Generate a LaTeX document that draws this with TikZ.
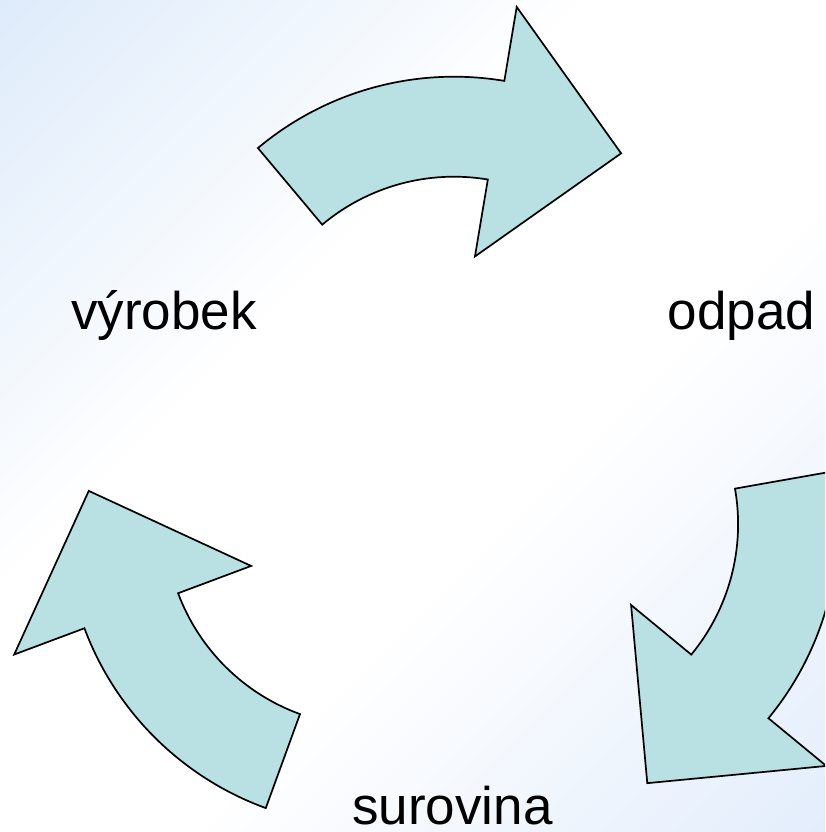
\documentclass[tikz,border=0pt]{standalone}
\usepackage{fontspec}
\setmainfont{Liberation Sans}
\usepackage{xcolor}

\definecolor{arrowfill}{RGB}{185,224,226}
\definecolor{bgcorner}{RGB}{203,224,248}
\definecolor{bgfar}{RGB}{212,228,250}

% slide background: blue corners, white band between
\pgfdeclareverticalshading{slidefade}{100bp}{%
    color(0bp)=(bgfar); color(42bp)=(white); color(60bp)=(white);
    color(100bp)=(bgcorner)}

\begin{document}
\begin{tikzpicture}[
    x=1pt, y=1pt,
    every node/.style={font=\fontsize{53}{60}\selectfont},
    cycarrow/.style={draw=black, line width=1.7pt, fill=arrowfill, line join=miter},
    word/.style    ={anchor=base, inner sep=0pt, text=black},
]

% ── Frame and background ─────────────────────────────────────
\useasboundingbox (-452.4,-356.2) rectangle (372.6,475.8);
\shade[shading=slidefade, shading angle=45]
    (-452.4,-356.2) rectangle (372.6,475.8);
\clip (-452.4,-356.2) rectangle (372.6,475.8);

\coordinate (hub) at (0,0);

% ── Curved arrows (one shape, turned round the hub) ──────────
\draw[cycarrow, shift={(1.6,94.1)}]
    (130:305) arc[start angle=130, end angle=80.5, radius=305]
    -- (80.5:380) -- (53.8:283) -- (80.5:127) -- (80.5:205)
    arc[start angle=80.5, end angle=130, radius=205] -- cycle;
\draw[cycarrow, rotate=120, shift={(1.6,94.1)}]
    (130:305) arc[start angle=130, end angle=80.5, radius=305]
    -- (80.5:380) -- (53.8:283) -- (80.5:127) -- (80.5:205)
    arc[start angle=80.5, end angle=130, radius=205] -- cycle;
\draw[cycarrow, rotate=240, shift={(1.6,94.1)}]
    (130:305) arc[start angle=130, end angle=80.5, radius=305]
    -- (80.5:380) -- (53.8:283) -- (80.5:127) -- (80.5:205)
    arc[start angle=80.5, end angle=130, radius=205] -- cycle;

% ── Labels ────────────────────────────────────────────────────
\node[word] (vyrobek)  at (-288.4,145.8) {výrobek};
\node[word] (odpad)    at (289,145.8)    {odpad};
\node[word] (surovina) at (0,-349)       {surovina};

\end{tikzpicture}
\end{document}
